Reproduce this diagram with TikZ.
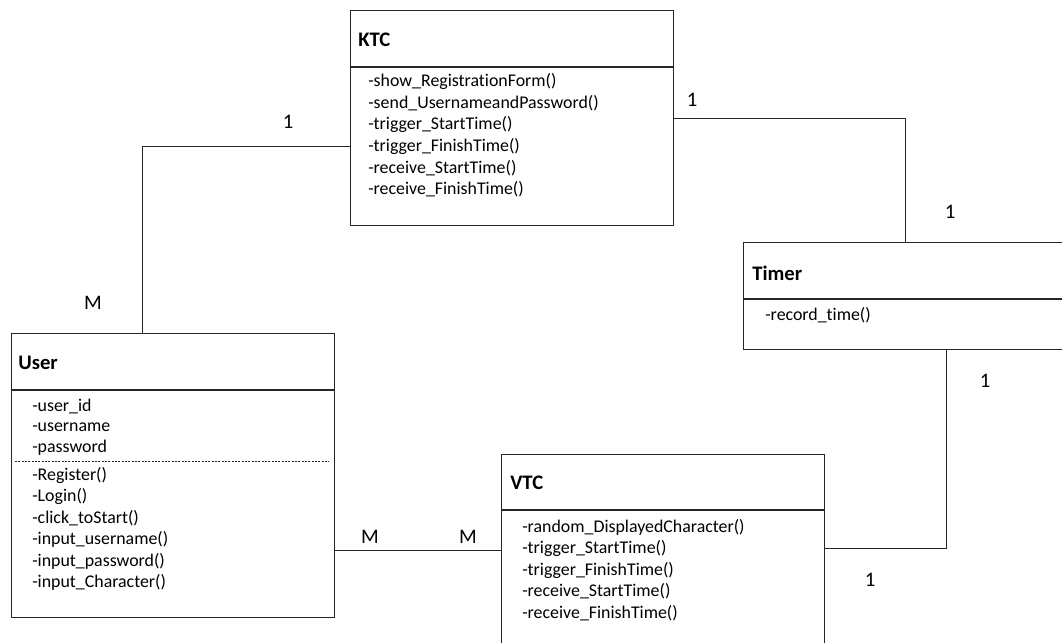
\documentclass[tikz,border=0pt]{standalone}
\usepackage{fontspec}
\setmainfont{Carlito}[Ligatures=NoCommon]
\def\u{0.75pt}
\tikzset{
  cls/.style={draw=black!85, line width=0.8pt, rectangle, anchor=north west, inner sep=0pt, fill=white},
  sep/.style={draw=black!85, line width=1.1pt},
  ttl/.style={anchor=west, inner sep=0pt, font=\fontsize{15.5}{17}\selectfont\bfseries},
  mth/.style={anchor=west, inner sep=0pt, font=\fontsize{13.4}{15}\selectfont},
  lbl/.style={inner sep=0pt, font=\fontsize{15.5}{17}\selectfont},
  conn/.style={draw=black!85, line width=0.6pt},
}
\begin{document}
\begin{tikzpicture}[x=0.75pt, y=-0.75pt]
\useasboundingbox (0,0) rectangle (1062,642);
\clip (0,0) rectangle (1062,642);
% boxes
\node[cls, minimum width=323*\u, minimum height=215*\u] (ktc) at (350,10) {};
\node[cls, minimum width=323*\u, minimum height=284*\u] (user) at (11,333) {};
\node[cls, minimum width=340*\u, minimum height=107*\u] (timer) at (743,242) {};
\node[cls, minimum width=323*\u, minimum height=210*\u] (vtc) at (501,454) {};
% separators
\draw[sep] (350,67) -- (673,67);
\draw[sep] (11,390) -- (334,390);
\draw[sep] (743,299) -- (1083,299);
\draw[sep] (501,510) -- (824,510);
\draw[black!85, line width=0.6pt, dash pattern=on 1.5pt off 1pt] (15,461) -- (329,461);
% titles
\node[ttl] (tktc) at (358,40) {KTC};
\node[ttl] (tuser) at (18,363) {User};
\node[ttl] (ttimer) at (752,273) {Timer};
\node[ttl] (tvtc) at (510,483) {VTC};
% KTC methods
\node[mth] (k1) at (368,82) {-show\_RegistrationForm()};
\node[mth] (k2) at (368,103.5) {-send\_UsernameandPassword()};
\node[mth] (k3) at (368,125) {-trigger\_StartTime()};
\node[mth] (k4) at (368,146.5) {-trigger\_FinishTime()};
\node[mth] (k5) at (368,168) {-receive\_StartTime()};
\node[mth] (k6) at (368,189.5) {-receive\_FinishTime()};
% User
\node[mth] (u1) at (32,406) {-user\_id};
\node[mth] (u2) at (32,427) {-username};
\node[mth] (u3) at (32,448) {-password};
\node[mth] (u4) at (32,475) {-Register()};
\node[mth] (u5) at (32,496.5) {-Login()};
\node[mth] (u6) at (32,518) {-click\_toStart()};
\node[mth] (u7) at (32,539.5) {-input\_username()};
\node[mth] (u8) at (32,561) {-input\_password()};
\node[mth] (u9) at (32,582.5) {-input\_Character()};
% Timer
\node[mth] (t1) at (765,315) {-record\_time()};
% VTC
\node[mth] (v1) at (522,527) {-random\_DisplayedCharacter()};
\node[mth] (v2) at (522,548.5) {-trigger\_StartTime()};
\node[mth] (v3) at (522,570) {-trigger\_FinishTime()};
\node[mth] (v4) at (522,591.5) {-receive\_StartTime()};
\node[mth] (v5) at (522,613) {-receive\_FinishTime()};
% connectors
\draw[conn] ([yshift=-136*\u]ktc.north west) -| ([xshift=131*\u]user.north west);
\draw[conn] ([yshift=-108*\u]ktc.north east) -| ([xshift=162*\u]timer.north west);
\draw[conn] ([xshift=203*\u]timer.south west) |- ([yshift=-94*\u]vtc.north east);
\coordinate (uv) at ([yshift=-217*\u]user.north east);
\draw[conn] (uv) -- (uv -| vtc.west);
% multiplicities
\node[lbl] (m1) at (288,122) {1};
\node[lbl] (m2) at (93,303) {M};
\node[lbl] (m3) at (370,537) {M};
\node[lbl] (m4) at (468,537) {M};
\node[lbl] (m5) at (692,100) {1};
\node[lbl] (m6) at (950,212) {1};
\node[lbl] (m7) at (985,381) {1};
\node[lbl] (m8) at (870,580) {1};
\end{tikzpicture}
\end{document}
